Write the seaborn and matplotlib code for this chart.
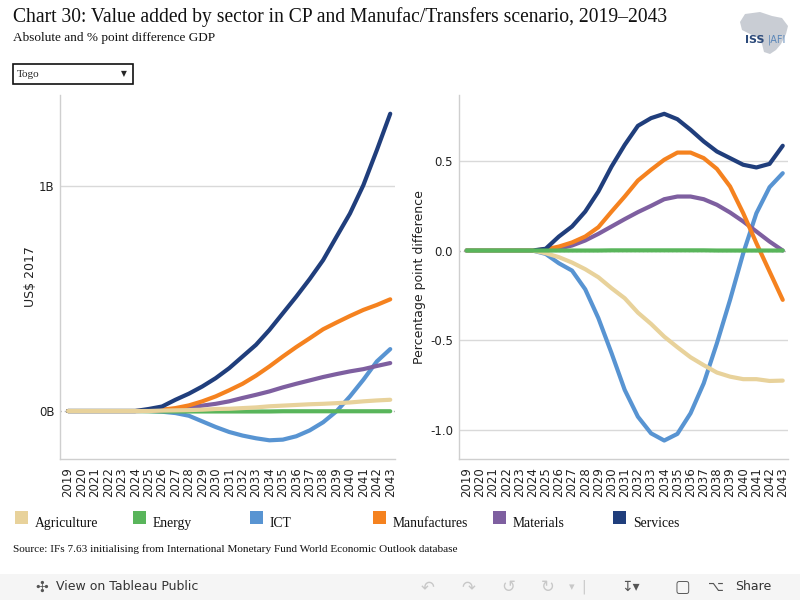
import matplotlib
matplotlib.use('Agg')
import matplotlib.pyplot as plt
import matplotlib.patches as mpatches
import pandas as pd
import seaborn as sns

# data
years = list(range(2019, 2044))
sectors = ['Agriculture', 'Energy', 'ICT', 'Manufactures', 'Materials', 'Services']
colors = ['#E8D29B', '#59B55B', '#5894D2', '#F5821F', '#7E5FA0', '#203E7C']

# absolute difference, billions US$ 2017
abs_agriculture = [0, 0, 0, 0, 0, 0, 0.0, 0.002, 0.003, 0.004, 0.006, 0.009, 0.010, 0.013, 0.016,
                   0.021, 0.024, 0.027, 0.030, 0.032, 0.035, 0.038, 0.043, 0.047, 0.050]
abs_energy = [0, 0, 0, 0, 0, 0, -0.001, -0.002, -0.002, -0.002, -0.002, -0.002, -0.002, -0.002, -0.002,
              -0.002, -0.001, -0.001, -0.001, -0.001, -0.001, -0.001, -0.001, -0.001, -0.001]
abs_ict = [0, 0, 0, 0, 0, 0, 0.0, -0.003, -0.009, -0.021, -0.046, -0.071, -0.093, -0.109, -0.121,
           -0.130, -0.127, -0.112, -0.086, -0.050, -0.001, 0.065, 0.139, 0.220, 0.275]
abs_manufactures = [0, 0, 0, 0, 0, 0, 0.001, 0.006, 0.013, 0.025, 0.043, 0.065, 0.092, 0.121, 0.157,
                    0.198, 0.242, 0.284, 0.323, 0.363, 0.393, 0.422, 0.449, 0.471, 0.496]
abs_materials = [0, 0, 0, 0, 0, 0, 0.001, 0.004, 0.009, 0.016, 0.024, 0.032, 0.043, 0.058, 0.072,
                 0.087, 0.105, 0.121, 0.136, 0.151, 0.164, 0.176, 0.186, 0.200, 0.213]
abs_services = [0, 0, 0, 0, 0, 0, 0.009, 0.020, 0.050, 0.077, 0.109, 0.146, 0.190, 0.242, 0.294,
                0.360, 0.434, 0.508, 0.586, 0.670, 0.774, 0.877, 1.003, 1.158, 1.320]

# percentage point difference of GDP
pp_agriculture = [0, 0, 0, 0, 0, 0, -0.015, -0.037, -0.067, -0.104, -0.149, -0.210, -0.266, -0.346, -0.409,
                  -0.480, -0.539, -0.595, -0.639, -0.680, -0.703, -0.717, -0.717, -0.727, -0.725]
pp_energy = [0, 0, 0, 0, 0, 0, 0.0, 0.0, 0.0, 0.0, 0.0, 0.001, 0.001, 0.001, 0.001,
             0.001, 0.001, 0.001, 0.001, 0.0, 0.0, 0.0, 0.0, 0.0, 0.0]
pp_ict = [0, 0, 0, 0, 0, 0, -0.019, -0.071, -0.112, -0.216, -0.377, -0.572, -0.777, -0.926, -1.019,
          -1.059, -1.022, -0.907, -0.740, -0.517, -0.275, -0.015, 0.208, 0.353, 0.431]
pp_manufactures = [0, 0, 0, 0, 0, 0, 0.007, 0.022, 0.045, 0.078, 0.130, 0.217, 0.301, 0.390, 0.450,
                   0.506, 0.546, 0.546, 0.515, 0.455, 0.357, 0.208, 0.041, -0.117, -0.275]
pp_materials = [0, 0, 0, 0, 0, 0, 0.004, 0.011, 0.028, 0.056, 0.093, 0.134, 0.175, 0.214, 0.249,
                0.286, 0.301, 0.301, 0.286, 0.255, 0.212, 0.162, 0.106, 0.050, 0.0]
pp_services = [0, 0, 0, 0, 0, 0, 0.010, 0.078, 0.134, 0.217, 0.329, 0.468, 0.589, 0.695, 0.738,
               0.762, 0.732, 0.673, 0.608, 0.552, 0.515, 0.478, 0.463, 0.483, 0.584]

abs_values = [abs_agriculture, abs_energy, abs_ict, abs_manufactures, abs_materials, abs_services]
pp_values = [pp_agriculture, pp_energy, pp_ict, pp_manufactures, pp_materials, pp_services]


def long_frame(values):
    rows = []
    for sector, series in zip(sectors, values):
        for year, v in zip(years, series):
            rows.append({'Year': year, 'Value': v, 'Sector': sector})
    return pd.DataFrame(rows)


def style_axis(ax, xlim, ylim):
    ax.set_xlim(*xlim)
    ax.set_ylim(*ylim)
    for side in ['top', 'right']:
        ax.spines[side].set_visible(False)
    for side in ['left', 'bottom']:
        ax.spines[side].set_color('#cfcfcf')
        ax.spines[side].set_linewidth(1)
    ax.set_xticks(years)
    ax.set_xticklabels([str(y) for y in years], rotation=90, fontsize=8.5, color='#222222')
    ax.tick_params(axis='x', length=4, color='#cfcfcf', pad=2)
    ax.tick_params(axis='y', length=0, labelsize=8.5, labelcolor='#222222', pad=4)
    ax.set_xlabel('')
    ax.grid(False)


sns.set_style('white')
plt.rcParams['font.family'] = ['DejaVu Sans']

fig = plt.figure(figsize=(8, 6), dpi=100)
ax1 = fig.add_axes([0.075, 0.235, 0.419, 0.607])
ax2 = fig.add_axes([0.5735, 0.235, 0.4115, 0.607])

palette = dict(zip(sectors, colors))
draw_order = ['ICT', 'Energy', 'Materials', 'Manufactures', 'Services', 'Agriculture']

# left panel
style_axis(ax1, (2018.4, 2043.37), (-0.213, 1.404))
ax1.axhline(1.0, color='#d9d9d9', lw=1, zorder=0)
ax1.axhline(0.0, color='#b5b5b5', lw=1, ls=(0, (1, 2)), zorder=0)
df_abs = long_frame(abs_values)
for s in draw_order:
    sns.lineplot(data=df_abs[df_abs['Sector'] == s], x='Year', y='Value', color=palette[s],
                 linewidth=3, ax=ax1, legend=False, solid_capstyle='round')
ax1.set_yticks([0, 1])
ax1.set_yticklabels(['0B', '1B'])
ax1.set_ylabel('US$ 2017', fontsize=9, color='#222222', labelpad=1)
ax1.set_xlabel('')

# right panel
style_axis(ax2, (2018.4, 2043.4), (-1.162, 0.868))
for g in [0.5, -0.5, -1.0]:
    ax2.axhline(g, color='#d9d9d9', lw=1, zorder=0)
ax2.axhline(0.0, color='#b5b5b5', lw=1, ls=(0, (1, 2)), zorder=0)
df_pp = long_frame(pp_values)
for s in ['ICT', 'Materials', 'Manufactures', 'Services', 'Agriculture', 'Energy']:
    sns.lineplot(data=df_pp[df_pp['Sector'] == s], x='Year', y='Value', color=palette[s],
                 linewidth=3, ax=ax2, legend=False, solid_capstyle='round')
ax2.set_yticks([-1.0, -0.5, 0.0, 0.5])
ax2.set_yticklabels(['-1.0', '-0.5', '0.0', '0.5'])
ax2.set_ylabel('Percentage point difference', fontsize=9, color='#222222', labelpad=3)
ax2.set_xlabel('')

# titles
serif = ['Liberation Serif', 'DejaVu Serif']
fig.text(13 / 800, 1 - 22 / 600, 'Chart 30: Value added by sector in CP and Manufac/Transfers scenario, 2019\u20132043',
         fontsize=14.1, family=serif, color='#111111', va='baseline')
fig.text(13 / 800, 1 - 41 / 600, 'Absolute and % point difference GDP',
         fontsize=9.5, family=serif, color='#111111', va='baseline')

# dropdown box
fig.patches.append(mpatches.Rectangle((13 / 800, 1 - 84 / 600), 120 / 800, 20 / 600,
                                      transform=fig.transFigure, fill=False, ec='#111111', lw=1.2))
fig.text(17 / 800, 1 - 74.5 / 600, 'Togo', fontsize=8, family=serif, va='center')
fig.text(124 / 800, 1 - 74 / 600, '\u25bc', fontsize=5.5, va='center', ha='center')

# logo: rough grey continent silhouette with the ISS | AFI mark
africa = [(745, 14), (760, 12), (772, 16), (782, 18), (788, 26), (786, 34), (781, 44),
          (776, 50), (770, 54), (764, 52), (762, 44), (758, 38), (750, 34), (742, 30), (740, 22)]
fig.patches.append(mpatches.Polygon([(x / 800, 1 - y / 600) for x, y in africa], closed=True,
                                    transform=fig.transFigure, color='#c9cdd4', ec='none'))
fig.text(755 / 800, 1 - 40 / 600, 'ISS', fontsize=8, color='#2c4a7a', fontweight='bold', va='center', ha='center')
fig.text(777 / 800, 1 - 40 / 600, '|AFI', fontsize=7, color='#5a86b8', va='center', ha='center')

# legend
leg_x = [15, 133, 250, 373, 493, 613]
for x, s, c in zip(leg_x, sectors, colors):
    fig.patches.append(mpatches.Rectangle((x / 800, 1 - 524 / 600), 13 / 800, 13 / 600,
                                          transform=fig.transFigure, color=c, ec='none'))
    fig.text((x + 20) / 800, 1 - 527 / 600, s, fontsize=9.8, family=serif, color='#111111', va='baseline')

fig.text(13 / 800, 1 - 552 / 600, 'Source: IFs 7.63 initialising from International Monetary Fund World Economic Outlook database',
         fontsize=8.1, family=serif, color='#111111', va='baseline')

# toolbar
fig.patches.append(mpatches.Rectangle((0, 0), 1, 26 / 600, transform=fig.transFigure,
                                      color='#f5f5f5', ec='none'))
fig.text(42 / 800, 13 / 600, '\u2723', fontsize=11, color='#555555', va='center', ha='center')
fig.text(56 / 800, 13 / 600, 'View on Tableau Public', fontsize=9, color='#333333', va='center')
for x, g in zip([428, 468, 508, 548], ['\u21b6', '\u21b7', '\u21ba', '\u21bb']):
    fig.text(x / 800, 13 / 600, g, fontsize=12, color='#c8c8c8', va='center', ha='center')
fig.text(572 / 800, 13 / 600, '\u25be', fontsize=8, color='#c8c8c8', va='center', ha='center')
fig.text(584 / 800, 13 / 600, '|', fontsize=10, color='#c8c8c8', va='center', ha='center')
fig.text(630 / 800, 13 / 600, '\u21a7\u25be', fontsize=10, color='#555555', va='center', ha='center')
fig.text(682 / 800, 13 / 600, '\u25a2', fontsize=12, color='#555555', va='center', ha='center')
fig.text(716 / 800, 13 / 600, '\u2325', fontsize=10, color='#555555', va='center', ha='center')
fig.text(735 / 800, 13 / 600, 'Share', fontsize=9, color='#333333', va='center')

fig.savefig('out.png', dpi=100)
